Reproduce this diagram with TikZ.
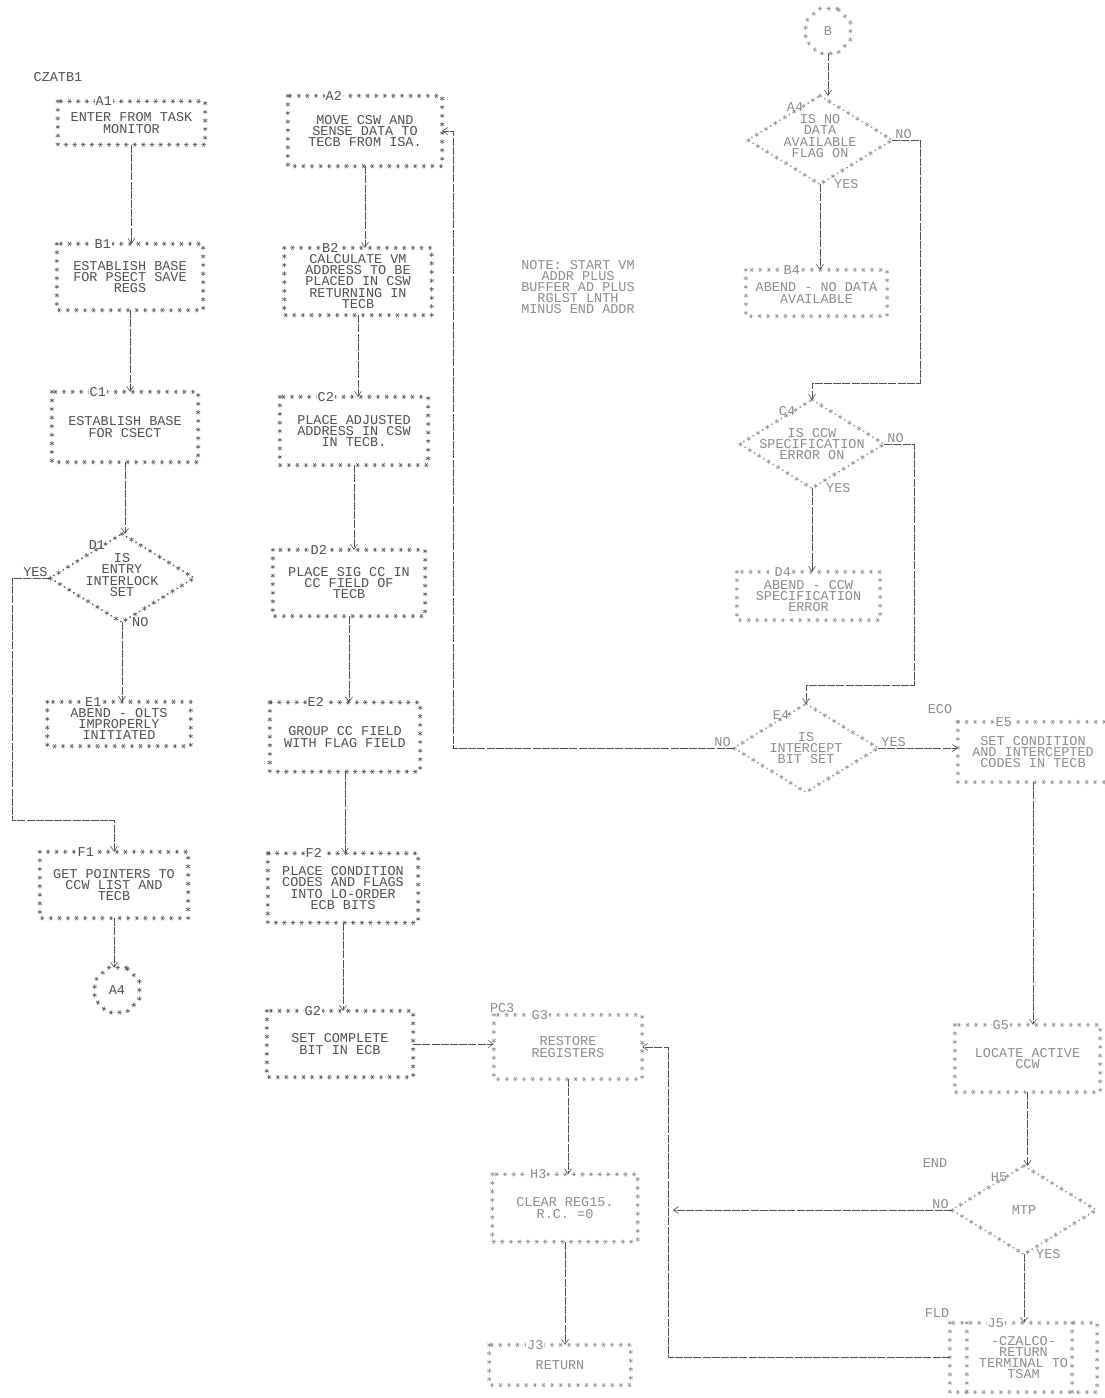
\documentclass[tikz,border=0pt]{standalone}
\usepackage{fontspec}
\usepackage{tikz}
\usetikzlibrary{arrows.meta,positioning,shapes.geometric,decorations.markings}
\newfontfamily\prt{Liberation Mono}
\definecolor{encre}{HTML}{505050}
\definecolor{pale}{HTML}{8C8C8C}

\begin{document}
\begin{tikzpicture}[x=1pt,y=-1pt,
  txt/.style={font=\prt\fontsize{13.5}{11.2}\selectfont,align=center,inner sep=0pt},
  boite/.style={rectangle,inner sep=0pt,txt,text=#1},
  boite/.default=encre,
  losn/.style={diamond,inner sep=0pt,minimum width=144pt,minimum height=88pt},
  conn/.style={regular polygon,regular polygon sides=8,minimum size=48pt,inner sep=0pt,txt,text=#1},
  tag/.style={txt,fill=white,inner sep=1pt,text=#1},
  etoile/.style={decorate,decoration={markings,
    mark=between positions 0 and 1 step 8.6pt with {\draw[color=#1,line width=0.5pt]
      (-2.3pt,0) -- (2.3pt,0) (-1.15pt,-2pt) -- (1.15pt,2pt) (1.15pt,-2pt) -- (-1.15pt,2pt);}}},
  losange/.style={decorate,decoration={markings,
    mark=between positions 0 and 1 step 5.5pt with {%
      \ifodd\pgfkeysvalueof{/pgf/decoration/mark info/sequence number}\relax
        \draw[color=#1,line width=0.5pt]
          (-2.3pt,0) -- (2.3pt,0) (-1.15pt,-2pt) -- (1.15pt,2pt) (1.15pt,-2pt) -- (-1.15pt,2pt);
      \else
        \fill[color=#1] (0,0) circle (1pt);
      \fi}}},
  fil/.style={encre,line width=0.6pt,dash pattern=on 8pt off 1.2pt,-{Straight Barb[length=5pt,width=7pt]}}
]
\useasboundingbox (0,0) rectangle (1105,1398);

% first column
\node[txt,text=encre] (titre) at (58,77) {CZATB1};
\node[boite,minimum width=147pt,minimum height=43pt] (a1) at (131.5,123) {ENTER FROM TASK\\MONITOR};
\node[boite,minimum width=146pt,minimum height=66pt] (b1) at (130,277) {ESTABLISH BASE\\FOR PSECT SAVE\\REGS};
\node[boite,minimum width=146pt,minimum height=70pt] (c1) at (125,427) {ESTABLISH BASE\\FOR CSECT};
\node[losn] (d1) at (122,578) {};
\node[txt,text=encre,yshift=3pt] (d1t) at (d1) {IS\\ENTRY\\INTERLOCK\\SET};
\node[boite,minimum width=143pt,minimum height=44pt] (e1) at (119,724) {ABEND - OLTS\\IMPROPERLY\\INITIATED};
\node[boite,minimum width=148pt,minimum height=66pt] (f1) at (114,885) {GET POINTERS TO\\CCW LIST AND\\TECB};
\node[conn=encre] (a4c) at (117,990) {A4};

% second column
\node[boite,minimum width=154pt,minimum height=70pt] (a2) at (365,131) {MOVE CSW AND\\SENSE DATA TO\\TECB FROM ISA.};
\node[boite,minimum width=147pt,minimum height=67pt] (b2) at (358,281.5) {CALCULATE VM\\ADDRESS TO BE\\PLACED IN CSW\\RETURNING IN\\TECB};
\node[boite,minimum width=148pt,minimum height=68pt] (c2) at (354,431) {PLACE ADJUSTED\\ADDRESS IN CSW\\IN TECB.};
\node[boite,minimum width=152pt,minimum height=66pt] (d2) at (349,583) {PLACE SIG CC IN\\CC FIELD OF\\TECB};
\node[boite,minimum width=150pt,minimum height=69pt] (e2) at (345,737) {GROUP CC FIELD\\WITH FLAG FIELD};
\node[boite,minimum width=150pt,minimum height=69pt] (f2) at (343,888) {PLACE CONDITION\\CODES AND FLAGS\\INTO LO-ORDER\\ECB BITS};
\node[boite,minimum width=146pt,minimum height=66pt] (g2) at (340,1044) {SET COMPLETE\\BIT IN ECB};

% third column
\node[txt,text=pale] (note) at (578,287) {NOTE: START VM\\ADDR PLUS\\BUFFER AD PLUS\\RGLST LNTH\\MINUS END ADDR};
\node[boite=pale,minimum width=148pt,minimum height=64pt] (g3) at (568,1047) {RESTORE\\REGISTERS};
\node[txt,text=pale,above right=2pt and -4pt of g3.north west] (pc3) {PC3};
\node[boite=pale,minimum width=145pt,minimum height=67pt] (h3) at (565,1208) {CLEAR REG15.\\R.C. =0};
\node[boite=pale,minimum width=141pt,minimum height=40pt] (j3) at (560,1365) {RETURN};

% fourth column
\node[conn=pale] (bc) at (828,31) {B};
\node[losn] (a4) at (820,140) {};
\node[txt,text=pale,yshift=4pt] (a4t) at (a4) {IS NO\\DATA\\AVAILABLE\\FLAG ON};
\node[boite=pale,minimum width=141pt,minimum height=46pt] (b4) at (816.5,293) {ABEND - NO DATA\\AVAILABLE};
\node[losn] (c4) at (812,444) {};
\node[txt,text=pale] (c4t) at (c4) {IS CCW\\SPECIFICATION\\ERROR ON};
\node[boite=pale,minimum width=143pt,minimum height=48pt] (d4) at (808.5,596) {ABEND - CCW\\SPECIFICATION\\ERROR};
\node[losn] (e4) at (806,748) {};
\node[txt,text=pale] (e4t) at (e4) {IS\\INTERCEPT\\BIT SET};

% fifth column
\node[boite=pale,minimum width=150pt,minimum height=60pt] (e5) at (1033,752) {SET CONDITION\\AND INTERCEPTED\\CODES IN TECB};
\node[txt,text=pale] (eco) at (940,709) {ECO};
\node[boite=pale,minimum width=145pt,minimum height=67pt] (g5) at (1027.5,1058.5) {LOCATE ACTIVE\\CCW};
\node[losn] (h5) at (1024,1210) {};
\node[txt,text=pale] (h5t) at (h5) {MTP};
\node[txt,text=pale] (fin) at (935,1163) {END};
\node[boite=pale,minimum width=147pt,minimum height=69pt] (j5) at (1023.5,1357.5) {-CZALCO-\\RETURN\\TERMINAL TO\\TSAM};
\node[txt,text=pale] (fld) at (937,1313) {FLD};

% borders made of asterisks
\foreach \n/\t/\c in {a1/A1/encre,b1/B1/encre,c1/C1/encre,e1/E1/encre,f1/F1/encre,
    a2/A2/encre,b2/B2/encre,c2/C2/encre,d2/D2/encre,e2/E2/encre,f2/F2/encre,g2/G2/encre,
    g3/G3/pale,h3/H3/pale,j3/J3/pale,b4/B4/pale,d4/D4/pale,e5/E5/pale,g5/G5/pale,j5/J5/pale}{
  \path[etoile=\c] (\n.north west) rectangle (\n.south east);
  \node[tag=\c] (\n-id) at ([xshift=46pt]\n.north west) {\t};
}
\path[etoile=pale] ([xshift=17pt]j5.north west) -- ([xshift=17pt]j5.south west);
\path[etoile=pale] ([xshift=-25pt]j5.north east) -- ([xshift=-25pt]j5.south east);
\foreach \n/\t/\c in {d1/D1/encre,a4/A4/pale,c4/C4/pale,e4/E4/pale,h5/H5/pale}{
  \path[losange=\c] (\n.north) -- (\n.east) -- (\n.south) -- (\n.west) -- cycle;
  \node[txt,text=\c] (\n-id) at ([xshift=-25pt,yshift=33pt]\n) {\t};
}
\foreach \n/\c in {a4c/encre,bc/pale}
  \path[etoile=\c] (\n.corner 1) \foreach \k in {2,...,8}{-- (\n.corner \k)} -- cycle;

% branch labels
\node[txt,text=encre,above left=1pt and 2pt of d1.west] (d1-oui) {YES};
\node[txt,text=encre,right=10pt of d1.south] (d1-non) {NO};
\node[txt,text=pale,above right=1pt and 3pt of a4.east] (a4-non) {NO};
\node[txt,text=pale,right=14pt of a4.south] (a4-oui) {YES};
\node[txt,text=pale,above right=1pt and 3pt of c4.east] (c4-non) {NO};
\node[txt,text=pale,right=14pt of c4.south] (c4-oui) {YES};
\node[txt,text=pale,above left=1pt and 3pt of e4.west] (e4-non) {NO};
\node[txt,text=pale,above right=1pt and 3pt of e4.east] (e4-oui) {YES};
\node[txt,text=pale,above left=1pt and 3pt of h5.west] (h5-non) {NO};
\node[txt,text=pale,right=12pt of h5.south] (h5-oui) {YES};

% connectors
\foreach \u/\v in {a1/b1,b1/c1,c1/d1,d1/e1,f1/a4c,a2/b2,b2/c2,c2/d2,d2/e2,e2/f2,f2/g2,
    g3/h3,h3/j3,bc/a4,a4/b4,c4/d4,e5/g5,g5/h5,h5/j5}
  \draw[fil] (\u.south) -- (\u.south |- \v.north);
\coordinate (yg) at (12,820);
\draw[fil] (d1.west) -- (d1.west -| yg) -- (yg) -- (yg -| f1.north) -- (f1.north);
\draw[fil] (g2.east) -- (g2.east -| g3.west);
\coordinate (na) at (920,383);
\draw[fil] (a4.east) -- (a4.east -| na) -- (na) -- (na -| c4.north) -- (c4.north);
\coordinate (nc) at (914,685);
\draw[fil] (c4.east) -- (c4.east -| nc) -- (nc) -- (nc -| e4.north) -- (e4.north);
\coordinate (ne) at (453,748);
\draw[fil] (e4.west) -- (ne) -- (ne |- a2.east) -- (a2.east);
\draw[fil] (e4.east) -- (e4.east -| e5.west);
\coordinate (rj) at (668,1360);
\draw[fil] (j5.west) -- (j5.west -| rj) -- (rj |- g3.east) -- (g3.east);
\draw[fil] (h5.west) -- ([xshift=5pt]h5.west -| rj);
\end{tikzpicture}
\end{document}
